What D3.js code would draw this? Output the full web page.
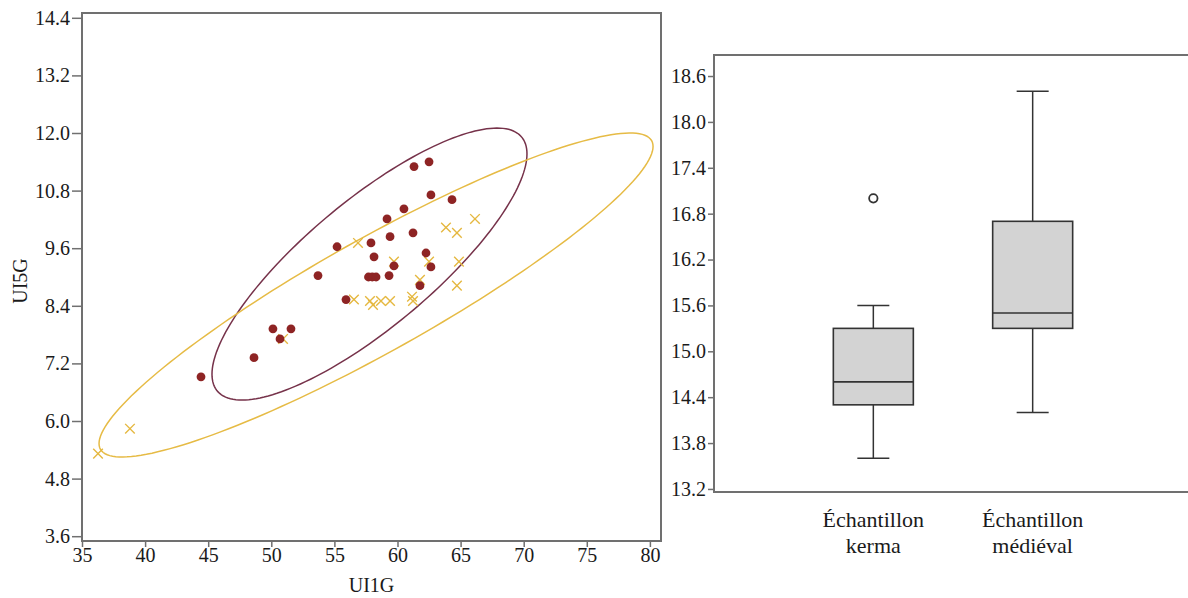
<!DOCTYPE html>
<html><head><meta charset="utf-8">
<script src="https://cdn.jsdelivr.net/npm/d3@7"></script>
<style>
body{margin:0;background:#fff}
svg{display:block}
svg, svg text{font-family:"Liberation Serif","Times New Roman",Times,"DejaVu Serif",serif !important;fill:#1a1a1a}
</style>
</head><body>
<svg id="c" width="1188" height="598"></svg>
<script>
// ---------- data ----------
const scatterXTicks = [35, 40, 45, 50, 55, 60, 65, 70, 75, 80];
const scatterYTicks = [3.6, 4.8, 6.0, 7.2, 8.4, 9.6, 10.8, 12.0, 13.2, 14.4];
const boxYTicks = [13.2, 13.8, 14.4, 15.0, 15.6, 16.2, 16.8, 17.4, 18.0, 18.6];

// group shown as dark red dots
const dotX = [61.31, 62.50, 62.65, 64.32, 60.51, 59.17, 61.23, 59.41, 55.21, 57.90, 58.14, 62.26, 62.65,
              53.70, 57.70, 58.00, 58.30, 59.33, 59.72, 61.78, 55.92, 50.13, 51.56, 50.69, 48.63, 44.43];
const dotY = [11.30, 11.40, 10.71, 10.61, 10.42, 10.21, 9.92, 9.84, 9.63, 9.71, 9.42, 9.50, 9.21,
              9.03, 9.00, 9.00, 9.00, 9.03, 9.23, 8.82, 8.53, 7.92, 7.92, 7.71, 7.32, 6.92];

// group shown as yellow crosses
const crossX = [36.27, 38.80, 56.87, 59.72, 62.50, 64.87, 63.84, 64.71, 66.14, 61.78, 64.71, 56.55,
                57.82, 58.69, 59.41, 58.06, 61.15, 61.23, 50.93];
const crossY = [5.32, 5.84, 9.71, 9.32, 9.32, 9.32, 10.03, 9.92, 10.21, 8.94, 8.82, 8.53,
                8.50, 8.50, 8.50, 8.42, 8.59, 8.50, 7.71];

// density ellipses (dots, crosses): centre, half extents, correlation
const ellipseCx = [57.78, 58.30];
const ellipseCy = [9.27, 8.625];
const ellipseRx = [12.48, 21.95];
const ellipseRy = [2.833, 3.375];
const ellipseRho = [0.81, 0.917];

// box plot
const boxCategories = ["Échantillon kerma", "Échantillon médiéval"];
const boxLabelLines = [["Échantillon", "kerma"], ["Échantillon", "médiéval"]];
const boxMin = [13.6, 14.2];
const boxQ1 = [14.3, 15.3];
const boxMedian = [14.6, 15.5];
const boxQ3 = [15.3, 16.7];
const boxMax = [15.6, 18.4];
const outlierCategory = ["Échantillon kerma"];
const outlierValue = [17.0];

// ---------- drawing ----------
const FONT = '"Liberation Serif","Times New Roman",Times,"DejaVu Serif",serif';
const svg = d3.select("#c").attr("font-family", FONT);
const frameColor = "#707070";
const dotColor = "#8e2424";
const crossColor = "#e5b840";
const ellipseColors = ["#76324a", "#e6bb45"];

// left scatter
const L = {left: 82, right: 661, top: 13, bottom: 541};
const x = d3.scaleLinear().domain([35, 80.88]).range([L.left, L.right]);
const y = d3.scaleLinear().domain([3.5, 14.5]).range([L.bottom, L.top]);

const gL = svg.append("g");

// ellipses
const tSteps = d3.range(0, 361, 2).map(d => d * Math.PI / 180);
ellipseCx.forEach((cx, i) => {
  const pts = tSteps.map(t => [
    x(cx + ellipseRx[i] * Math.cos(t)),
    y(ellipseCy[i] + ellipseRy[i] * (ellipseRho[i] * Math.cos(t) + Math.sqrt(1 - ellipseRho[i] ** 2) * Math.sin(t)))
  ]);
  gL.append("path").attr("d", d3.line().curve(d3.curveLinearClosed)(pts))
    .attr("fill", "none").attr("stroke", ellipseColors[i]).attr("stroke-width", 1.5);
});

// crosses
const cs = 4.8;
gL.selectAll("path.cross").data(crossX).join("path").attr("class", "cross")
  .attr("d", `M${-cs},${-cs}L${cs},${cs}M${-cs},${cs}L${cs},${-cs}`)
  .attr("transform", (d, i) => `translate(${x(d)},${y(crossY[i])})`)
  .attr("stroke", crossColor).attr("stroke-width", 1.4).attr("fill", "none");

// dots
gL.selectAll("circle.dot").data(dotX).join("circle").attr("class", "dot")
  .attr("cx", d => x(d)).attr("cy", (d, i) => y(dotY[i])).attr("r", 4.4)
  .attr("fill", dotColor);

// frame
gL.append("rect").attr("x", L.left).attr("y", L.top)
  .attr("width", L.right - L.left).attr("height", L.bottom - L.top)
  .attr("fill", "none").attr("stroke", frameColor).attr("stroke-width", 2);

const axL = gL.append("g").attr("transform", `translate(${L.left},0)`)
  .call(d3.axisLeft(y).tickValues(scatterYTicks).tickFormat(d3.format(".1f")).tickSize(10).tickPadding(2));
const axB = gL.append("g").attr("transform", `translate(0,${L.bottom})`)
  .call(d3.axisBottom(x).tickValues(scatterXTicks).tickFormat(d3.format("d")).tickSize(6).tickPadding(1));
function styleAxis(a) {
  a.attr("font-family", FONT);
  a.select(".domain").remove();
  a.selectAll(".tick line").attr("stroke", frameColor).attr("stroke-width", 1.5);
  a.selectAll(".tick text").attr("font-size", 20).attr("fill", "#1a1a1a").attr("font-family", FONT);
}
styleAxis(axL);
styleAxis(axB);

gL.append("text").attr("transform", `translate(27,${(L.top + L.bottom) / 2 + 4}) rotate(-90)`)
  .attr("text-anchor", "middle").attr("font-size", 20).attr("font-family", FONT).text("UI5G");
gL.append("text").attr("x", (L.left + L.right) / 2).attr("y", 592)
  .attr("text-anchor", "middle").attr("font-size", 20).attr("font-family", FONT).text("UI1G");

// right box plot
const R = {left: 714, right: 1192, top: 55, bottom: 492};
const xb = d3.scalePoint().domain(boxCategories).range([R.left, R.right]).padding(1);
const yb = d3.scaleLinear().domain([13.16, 18.875]).range([R.bottom, R.top]);
const gR = svg.append("g");
const bw = 80, capW = 32;
const boxStroke = "#333";

boxCategories.forEach((c, i) => {
  const cx = xb(c);
  gR.append("line").attr("x1", cx).attr("x2", cx).attr("y1", yb(boxMax[i])).attr("y2", yb(boxQ3[i]))
    .attr("stroke", boxStroke).attr("stroke-width", 1.5);
  gR.append("line").attr("x1", cx).attr("x2", cx).attr("y1", yb(boxQ1[i])).attr("y2", yb(boxMin[i]))
    .attr("stroke", boxStroke).attr("stroke-width", 1.5);
  gR.append("line").attr("x1", cx - capW / 2).attr("x2", cx + capW / 2).attr("y1", yb(boxMax[i])).attr("y2", yb(boxMax[i]))
    .attr("stroke", boxStroke).attr("stroke-width", 1.5);
  gR.append("line").attr("x1", cx - capW / 2).attr("x2", cx + capW / 2).attr("y1", yb(boxMin[i])).attr("y2", yb(boxMin[i]))
    .attr("stroke", boxStroke).attr("stroke-width", 1.5);
  gR.append("rect").attr("x", cx - bw / 2).attr("y", yb(boxQ3[i]))
    .attr("width", bw).attr("height", yb(boxQ1[i]) - yb(boxQ3[i]))
    .attr("fill", "#d3d3d3").attr("stroke", boxStroke).attr("stroke-width", 1.6);
  gR.append("line").attr("x1", cx - bw / 2).attr("x2", cx + bw / 2).attr("y1", yb(boxMedian[i])).attr("y2", yb(boxMedian[i]))
    .attr("stroke", boxStroke).attr("stroke-width", 1.6);
  boxLabelLines[i].forEach((ln, k) => {
    gR.append("text").attr("x", cx).attr("y", 527 + k * 26).attr("text-anchor", "middle")
      .attr("font-size", 22).attr("font-family", FONT).text(ln);
  });
});

outlierCategory.forEach((c, i) => {
  gR.append("circle").attr("cx", xb(c)).attr("cy", yb(outlierValue[i])).attr("r", 4.2)
    .attr("fill", "#fff").attr("stroke", boxStroke).attr("stroke-width", 1.8);
});

gR.append("path").attr("d", `M${R.right + 10},${R.top}H${R.left}V${R.bottom}H${R.right + 10}`)
  .attr("fill", "none").attr("stroke", frameColor).attr("stroke-width", 2);
const axR = gR.append("g").attr("transform", `translate(${R.left},0)`)
  .call(d3.axisLeft(yb).tickValues(boxYTicks).tickFormat(d3.format(".1f")).tickSize(6).tickPadding(2));
styleAxis(axR);
</script>
</body></html>
